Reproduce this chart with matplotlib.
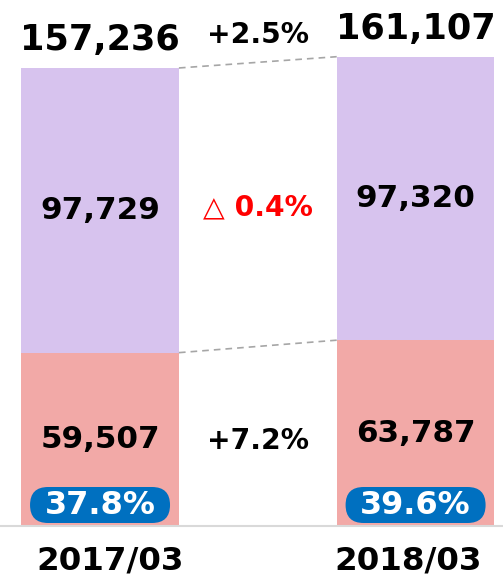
import numpy as np
from matplotlib import pyplot as plt
from matplotlib import patches

# data
periods = ['2017/03', '2018/03']
lower_values = [59507, 63787]
upper_values = [97729, 97320]
totals = [157236, 161107]
lower_shares = ['37.8%', '39.6%']
total_change = '+2.5%'
upper_change = '△ 0.4%'
lower_change = '+7.2%'

LAVENDER = '#D7C3EE'
PINK = '#F2A9A7'
BLUE = '#0070C0'

plt.rcParams['font.family'] = ['DejaVu Sans']

fig = plt.figure(figsize=(5.03, 5.75), dpi=100)
ax = fig.add_axes([0, 49 / 575, 1, 526 / 575])

x = np.arange(len(periods))
width = 0.5
ax.bar(x, lower_values, width, color=PINK, edgecolor='none')
ax.bar(x, upper_values, width, bottom=lower_values, color=LAVENDER,
       edgecolor='none')

ax.set_xlim(-0.317, 1.277)
ax.set_ylim(0, 180570)
ax.axis('off')

# pixel -> data unit factors
px_x = (1.277 + 0.317) / 503
px_y = 180570 / 526

# baseline
ax.axhline(0, color='#D9D9D9', linewidth=1.5, clip_on=False)

# dashed connectors
for levels in (totals, lower_values):
    ax.plot([x[0] + width / 2, x[1] - width / 2], levels,
            color='#A6A6A6', linestyle=(0, (4, 3)), linewidth=1.2)

bold = dict(fontweight='bold', ha='center', va='center')
label_shift = [10, -7]  # category labels sit a bit inward

for i in range(len(periods)):
    ax.text(x[i], lower_values[i] / 2, f'{lower_values[i]:,}',
            fontsize=22.3, **bold)
    ax.text(x[i], lower_values[i] + upper_values[i] / 2,
            f'{upper_values[i]:,}', fontsize=22.3, **bold)
    ax.annotate(f'{totals[i]:,}', (x[i], totals[i]),
                xytext=(0, 28), textcoords='offset pixels',
                fontsize=25.3, **bold)
    # share pill
    pw, ph = 140 * px_x, 36 * px_y
    pill = patches.FancyBboxPatch(
        (x[i] - pw / 2, 3 * px_y), pw, ph,
        boxstyle=f'round,pad=0,rounding_size={18 * px_x}',
        mutation_aspect=px_y / px_x, fc=BLUE, ec='none')
    ax.add_patch(pill)
    ax.text(x[i], 3 * px_y + ph / 2, lower_shares[i], fontsize=23,
            color='white', **bold)
    ax.annotate(periods[i], (x[i], 0), xytext=(label_shift[i], -35),
                textcoords='offset pixels', fontsize=23.4, **bold)

mid = (x[0] + x[1]) / 2
ax.annotate(total_change, (mid, np.mean(totals)), xytext=(0, 27),
            textcoords='offset pixels', fontsize=20.3, **bold)
upper_mid = np.mean([lower_values[i] + upper_values[i] / 2 for i in range(2)])
ax.text(mid, upper_mid - 1000, upper_change, color='#FF0000',
        fontsize=20.3, **bold)
lower_mid = np.mean([v / 2 for v in lower_values])
ax.text(mid, lower_mid - 1500, lower_change, fontsize=20.3, **bold)

fig.savefig('out.png', dpi=100)
